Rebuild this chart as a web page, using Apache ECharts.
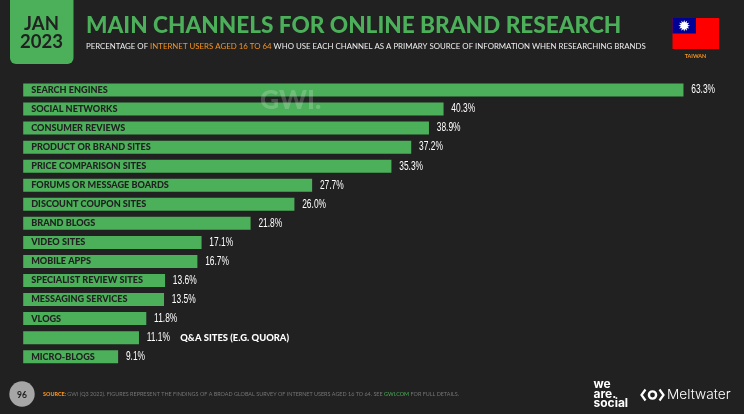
<!DOCTYPE html>
<html><head><meta charset="utf-8">
<style>html,body{margin:0;padding:0;background:#212121}#c{width:744px;height:414px}</style>
<script src="https://cdn.jsdelivr.net/npm/echarts@6/dist/echarts.min.js"></script>
</head><body><div id="c"></div>
<script>
const categories = ["SEARCH ENGINES","SOCIAL NETWORKS","CONSUMER REVIEWS","PRODUCT OR BRAND SITES","PRICE COMPARISON SITES","FORUMS OR MESSAGE BOARDS","DISCOUNT COUPON SITES","BRAND BLOGS","VIDEO SITES","MOBILE APPS","SPECIALIST REVIEW SITES","MESSAGING SERVICES","VLOGS","Q&A SITES (E.G. QUORA)","MICRO-BLOGS"];
const values = [63.3,40.3,38.9,37.2,35.3,27.7,26.0,21.8,17.1,16.7,13.6,13.5,11.8,11.1,9.1];
const outsideLabel = "Q&A SITES (E.G. QUORA)";
const GREEN="#4CAF5A", BG="#212121", ORANGE="#F7931E";
const FONT="Lato";
const chart = echarts.init(document.getElementById('c'),null,{renderer:'canvas'});
chart.setOption({
  animation:false,
  backgroundColor:BG,
  grid:{left:23.2,top:80.5,width:709.3,height:285.7},
  xAxis:{type:'value',min:0,max:68,show:false},
  yAxis:{type:'category',data:categories,inverse:true,z:10,
    axisLine:{show:false},axisTick:{show:false},splitLine:{show:false},
    axisLabel:{inside:true,margin:8,interval:0,color:BG,fontFamily:FONT,fontWeight:900,fontSize:9.1,
      formatter:v=>v===outsideLabel?`{o|${v}}`:v,
      rich:{o:{color:'#fff',fontFamily:FONT,fontWeight:900,fontSize:9.4,padding:[0,0,0,149]}}}},
  series:[
    {type:'bar',data:values,barWidth:13,itemStyle:{color:GREEN}},
    {type:'custom',data:values.map((v,i)=>[v,i]),encode:{x:0,y:1},z:5,
      renderItem:(params,api)=>{
        const p=api.coord([api.value(0),api.value(1)]);
        return {type:'text',x:p[0]+7.8,y:p[1],scaleX:0.7,
          style:{text:api.value(0).toFixed(1)+'%',fill:'#fff',font:"400 12px 'Liberation Sans'",verticalAlign:'middle'}};
      }}
  ],
  graphic:[
    {type:'rect',shape:{x:10,y:-12,width:63.5,height:76,r:6},style:{fill:GREEN},z:5},
    {type:'text',x:41.5,y:24.5,z:6,style:{text:'JAN',fill:BG,font:'700 18.5px Lato',align:'center',verticalAlign:'middle'}},
    {type:'text',x:41.5,y:42.5,z:6,style:{text:'2023',fill:BG,font:'700 18.5px Lato',align:'center',verticalAlign:'middle'}},
    {type:'text',x:86,y:26,z:6,style:{text:'MAIN CHANNELS FOR ONLINE BRAND RESEARCH',fill:GREEN,font:'900 22.6px Lato',verticalAlign:'middle'}},
    {type:'text',x:86,y:46,z:6,style:{fontFamily:FONT,fontSize:7.85,verticalAlign:'middle',
      text:'{w|PERCENTAGE OF }{o|INTERNET USERS AGED 16 TO 64}{w| WHO USE EACH CHANNEL AS A PRIMARY SOURCE OF INFORMATION WHEN RESEARCHING BRANDS}',
      rich:{w:{fill:'#eee',fontFamily:FONT,fontSize:7.85},o:{fill:ORANGE,fontFamily:FONT,fontSize:7.85}}}},
    {type:'rect',shape:{x:672.5,y:18,width:46.5,height:31},style:{fill:'#FE0000'},z:6},
    {type:'rect',shape:{x:672.5,y:18,width:23.5,height:15.5},style:{fill:'#000095'},z:7},
    {type:'polygon',shape:{points:Array.from({length:24},(_,i)=>{const r=i%2?3.4:5.8,a=i*Math.PI/12;return [684.2+r*Math.cos(a),25.7+r*Math.sin(a)];})},style:{fill:'#fff'},z:8},
    {type:'text',x:695.5,y:56,z:6,style:{text:'TAIWAN',fill:ORANGE,font:'700 5.4px Lato',align:'center',verticalAlign:'middle'}},
    {type:'text',x:260,y:100,z:15,style:{text:'GWI.',fill:'rgba(255,255,255,0.2)',font:'900 26.5px Lato',verticalAlign:'middle'}},
    {type:'circle',shape:{cx:22,cy:394,r:12.7},style:{fill:'#A6A6A6'},z:6},
    {type:'text',x:22,y:395,z:7,style:{text:'96',fill:BG,font:'700 8.5px Lato',align:'center',verticalAlign:'middle'}},
    {type:'text',x:43,y:394.5,z:6,style:{fontFamily:FONT,fontSize:5.43,verticalAlign:'middle',
      text:'{o|SOURCE:} {g|GWI (Q3 2022). FIGURES REPRESENT THE FINDINGS OF A BROAD GLOBAL SURVEY OF INTERNET USERS AGED 16 TO 64. SEE }{n|GWI.COM}{g| FOR FULL DETAILS.}',
      rich:{o:{fill:ORANGE,fontWeight:900,fontFamily:FONT,fontSize:5.43},g:{fill:'#757575',fontFamily:FONT,fontSize:5.43},n:{fill:GREEN,fontFamily:FONT,fontSize:5.43}}}},
    {type:'text',x:593.5,y:384.5,z:6,style:{text:'we',fill:'#fff',font:'700 12px Inter',verticalAlign:'middle'}},
    {type:'text',x:593.5,y:394,z:6,style:{text:'are.',fill:'#fff',font:'700 12px Inter',verticalAlign:'middle'}},
    {type:'text',x:593.5,y:403.5,z:6,style:{text:'social',fill:'#fff',font:'700 12px Inter',verticalAlign:'middle'}},
    {type:'text',x:667,y:395,z:6,style:{text:'Meltwater',fill:'#fff',font:'300 13.7px Inter',verticalAlign:'middle'}},
    {type:'circle',shape:{cx:652.5,cy:395,r:3.6},style:{fill:'none',stroke:'#fff',lineWidth:2.4},z:6},
    {type:'polyline',shape:{points:[[645.5,389.5],[641.5,395],[645.5,400.5]]},style:{fill:'none',stroke:'#fff',lineWidth:2.2},z:6},
    {type:'polyline',shape:{points:[[659.5,389.5],[663.5,395],[659.5,400.5]]},style:{fill:'none',stroke:'#fff',lineWidth:2.2},z:6}
  ]
});
</script></body></html>
